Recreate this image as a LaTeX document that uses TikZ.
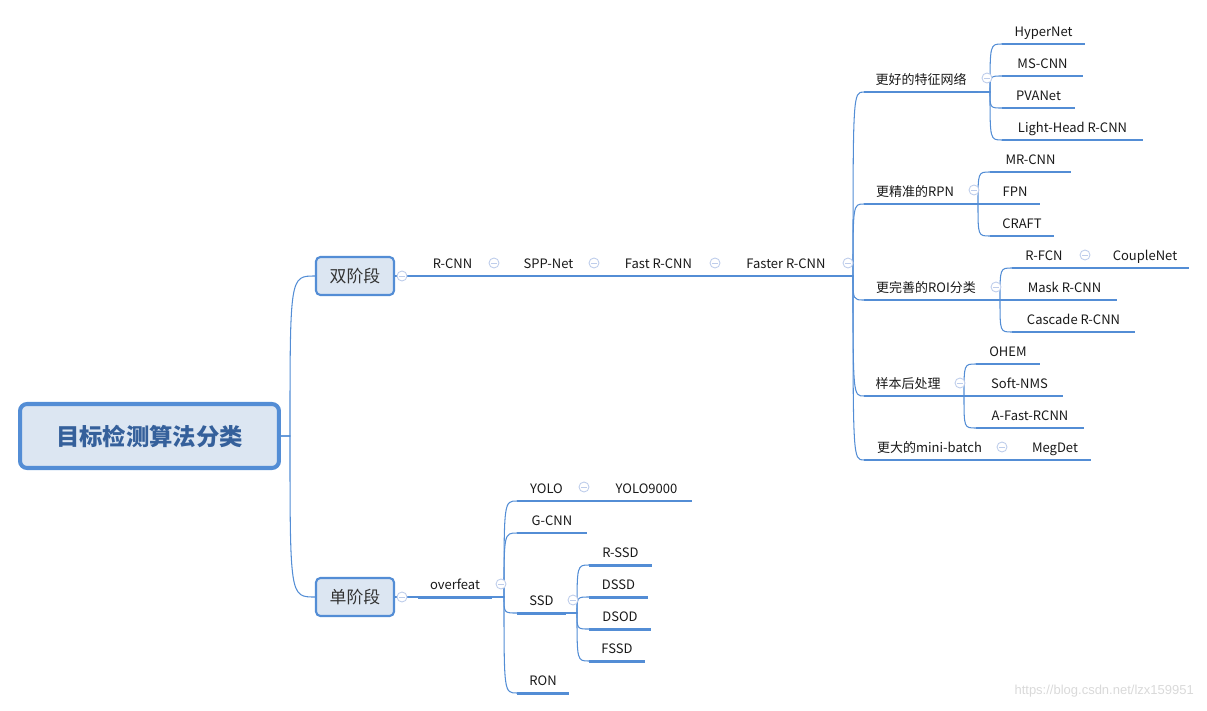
\documentclass[tikz,border=0pt]{standalone}
\usepackage{fontspec}
\setmainfont{Noto Sans CJK SC}
\newfontfamily\wmfont{Liberation Sans}
\definecolor{lineblue}{RGB}{83,141,213}
\definecolor{boxfill}{RGB}{220,230,242}
\definecolor{roottext}{RGB}{53,96,155}
\definecolor{foldc}{RGB}{190,205,235}

\begin{document}
\begin{tikzpicture}[x=0.02cm,y=-0.02cm,
    link/.style={draw=lineblue,line width=0.6pt},
    underline/.style={draw=lineblue,line width=1.7pt},
    topic/.style={anchor=south west,outer sep=0pt,inner xsep=0pt,inner ysep=2.9pt,
        minimum width=#1*0.02cm,text height=6pt,text depth=1.5pt,
        font=\fontsize{7.4}{9}\selectfont,text=black!90,
        append after command={(\tikzlastnode.south west) edge[underline] (\tikzlastnode.south east)}},
    phase/.style={draw=lineblue,line width=1.2pt,fill=boxfill,rounded corners=2.5pt,
        minimum width=1.56cm,minimum height=0.76cm,inner sep=0pt,
        font=\fontsize{9.6}{11}\selectfont,text=black!80},
    rootbox/.style={draw=lineblue,line width=2.3pt,fill=boxfill,rounded corners=4pt,
        minimum width=5.18cm,minimum height=1.28cm,inner sep=0pt,
        font=\fontsize{13.3}{16}\selectfont\bfseries,text=roottext},
    fold/.style={circle,draw=foldc,fill=white,line width=0.5pt,minimum size=5.7pt,inner sep=0pt,
        path picture={\draw[foldc,line width=0.5pt] ([xshift=-1.6pt]path picture bounding box.center)
            -- ([xshift=1.6pt]path picture bounding box.center);}},
    branch/.style={to path={-- ++(#1,0) coordinate (j) .. controls (j |- \tikztotarget) .. (\tikztotarget)}}]

    \useasboundingbox (0,0) rectangle (1207,710);

    \node[rootbox] (root) at (149.5,436) {目标检测算法分类};
    \node[phase] (two) at (355,276) {双阶段};
    \node[phase] (one) at (355,597) {单阶段};

    \node[topic=69] (rcnn) at (418,276) {R-CNN};
    \node[topic=77] (spp) at (510,276) {SPP-Net};
    \node[topic=97] (fast) at (610,276) {Fast R-CNN};
    \node[topic=110] (faster) at (731,276) {Faster R-CNN};

    \node[topic=114] (feat) at (864,92) {更好的特征网络};
    \node[topic=102] (rpn) at (864,204) {更精准的RPN};
    \node[topic=124] (roi) at (864,300) {更完善的ROI分类};
    \node[topic=88] (post) at (864,396) {样本后处理};
    \node[topic=131] (batch) at (864,460) {更大的mini-batch};

    \node[topic=83] (hyper) at (1002,44) {HyperNet};
    \node[topic=81] (mscnn) at (1002,76) {MS-CNN};
    \node[topic=73] (pva) at (1002,108) {PVANet};
    \node[topic=141] (light) at (1002,140) {Light-Head R-CNN};

    \node[topic=81] (mrcnn) at (990,172) {MR-CNN};
    \node[topic=50] (fpn) at (990,204) {FPN};
    \node[topic=64] (craft) at (990,236) {CRAFT};

    \node[topic=64] (rfcn) at (1012,268) {R-FCN};
    \node[topic=88] (couple) at (1101,268) {CoupleNet};
    \node[topic=105] (mask) at (1012,300) {Mask R-CNN};
    \node[topic=123] (cascade) at (1012,332) {Cascade R-CNN};

    \node[topic=64] (ohem) at (976,364) {OHEM};
    \node[topic=87] (soft) at (976,396) {Soft-NMS};
    \node[topic=108] (afast) at (976,428) {A-Fast-RCNN};

    \node[topic=72] (megdet) at (1019,460) {MegDet};

    \node[topic=74] (overfeat) at (418,597) {overfeat};
    \node[topic=59] (yolo) at (517,501) {YOLO};
    \node[topic=91] (yolo9k) at (601,501) {YOLO9000};
    \node[topic=70] (gcnn) at (517,533) {G-CNN};
    \node[topic=49] (ssd) at (517,613) {SSD};
    \node[topic=52] (ron) at (517,693) {RON};

    \node[topic=63] (rssd) at (589,565) {R-SSD};
    \node[topic=59] (dssd) at (589,597) {DSSD};
    \node[topic=62] (dsod) at (589,629) {DSOD};
    \node[topic=56] (fssd) at (589,661) {FSSD};

    \draw[link] (root.east) to[branch=9] (two.west);
    \draw[link] (root.east) to[branch=9] (one.west);

    \draw[link] (two.east) -- (rcnn.south west);
    \draw[link] (rcnn.south east) -- (spp.south west);
    \draw[link] (spp.south east) -- (fast.south west);
    \draw[link] (fast.south east) -- (faster.south west);

    \draw[link] (faster.south east) to[branch=12] (feat.south west);
    \draw[link] (faster.south east) to[branch=12] (rpn.south west);
    \draw[link] (faster.south east) to[branch=12] (roi.south west);
    \draw[link] (faster.south east) to[branch=12] (post.south west);
    \draw[link] (faster.south east) to[branch=12] (batch.south west);

    \draw[link] (feat.south east) to[branch=12] (hyper.south west);
    \draw[link] (feat.south east) to[branch=12] (mscnn.south west);
    \draw[link] (feat.south east) to[branch=12] (pva.south west);
    \draw[link] (feat.south east) to[branch=12] (light.south west);

    \draw[link] (rpn.south east) to[branch=12] (mrcnn.south west);
    \draw[link] (rpn.south east) -- (fpn.south west);
    \draw[link] (rpn.south east) to[branch=12] (craft.south west);

    \draw[link] (roi.south east) to[branch=12] (rfcn.south west);
    \draw[link] (roi.south east) -- (mask.south west);
    \draw[link] (roi.south east) to[branch=12] (cascade.south west);
    \draw[link] (rfcn.south east) -- (couple.south west);

    \draw[link] (post.south east) to[branch=12] (ohem.south west);
    \draw[link] (post.south east) -- (soft.south west);
    \draw[link] (post.south east) to[branch=12] (afast.south west);

    \draw[link] (batch.south east) -- (megdet.south west);

    \draw[link] (one.east) -- (overfeat.south west);
    \draw[link] (overfeat.south east) to[branch=12] (yolo.south west);
    \draw[link] (overfeat.south east) to[branch=12] (gcnn.south west);
    \draw[link] (overfeat.south east) to[branch=12] (ssd.south west);
    \draw[link] (overfeat.south east) to[branch=12] (ron.south west);
    \draw[link] (yolo.south east) -- (yolo9k.south west);

    \draw[link] (ssd.south east) to[branch=11] (rssd.south west);
    \draw[link] (ssd.south east) to[branch=11] (dssd.south west);
    \draw[link] (ssd.south east) to[branch=11] (dsod.south west);
    \draw[link] (ssd.south east) to[branch=11] (fssd.south west);

    \node[fold] (f0) at (402,276) {};
    \node[fold] (f1) at (494,263) {};
    \node[fold] (f2) at (594,263) {};
    \node[fold] (f3) at (715,263) {};
    \node[fold] (f4) at (848,263) {};
    \node[fold] (f5) at (987,78) {};
    \node[fold] (f6) at (974,190) {};
    \node[fold] (f7) at (996,287) {};
    \node[fold] (f8) at (1085,255) {};
    \node[fold] (f9) at (960,383) {};
    \node[fold] (f10) at (1002,447) {};
    \node[fold] (f11) at (402,597) {};
    \node[fold] (f12) at (501,584) {};
    \node[fold] (f13) at (584,487) {};
    \node[fold] (f14) at (573,600) {};

    \node[font=\wmfont\fontsize{7.4}{9}\selectfont,text=black!15,anchor=east] (wm) at (1200,691) {https://blog.csdn.net/lzx159951};

\end{tikzpicture}
\end{document}
